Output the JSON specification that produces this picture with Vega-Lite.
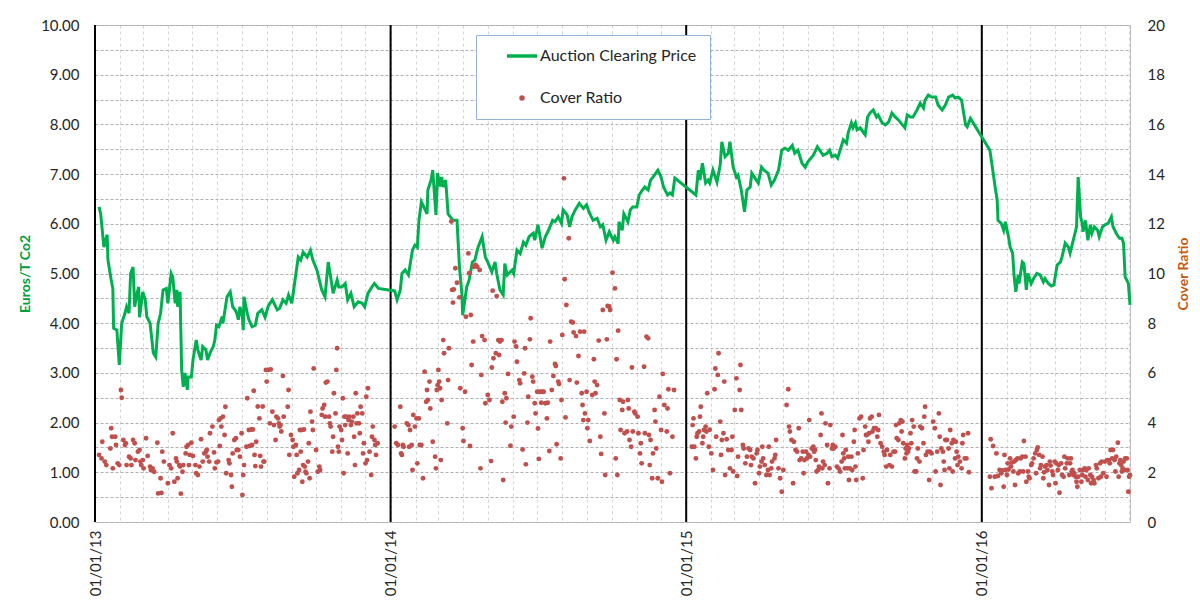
{
  "$schema": "https://vega.github.io/schema/vega-lite/v6.json",
  "width": 1035,
  "height": 497,
  "autosize": {"type": "none"},
  "padding": {"left": 95, "top": 25, "right": 70, "bottom": 80},
  "background": "white",
  "config": {"view": {"stroke": "#bfbfbf", "strokeWidth": 1}, "font": "Lato"},
  "datasets": {
    "years": [{"d": "2013-01-01"}, {"d": "2014-01-01"}, {"d": "2015-01-01"}, {"d": "2016-01-01"}],
    "price": [
      {"d":"2013-01-06","p":6.34},{"d":"2013-01-08","p":6.2},{"d":"2013-01-12","p":5.53},{"d":"2013-01-16","p":5.78},{"d":"2013-01-17","p":5.27},{"d":"2013-01-21","p":4.87},{"d":"2013-01-23","p":4.7},{"d":"2013-01-24","p":3.9},{"d":"2013-01-28","p":3.86},{"d":"2013-01-31","p":3.16},
      {"d":"2013-02-03","p":4.0},{"d":"2013-02-07","p":4.2},{"d":"2013-02-09","p":4.33},{"d":"2013-02-12","p":4.2},{"d":"2013-02-14","p":5.0},{"d":"2013-02-17","p":5.13},{"d":"2013-02-19","p":4.33},{"d":"2013-02-22","p":4.6},{"d":"2013-02-24","p":4.73},{"d":"2013-02-25","p":4.12},
      {"d":"2013-03-01","p":4.63},{"d":"2013-03-04","p":4.47},{"d":"2013-03-06","p":4.13},{"d":"2013-03-10","p":4.0},{"d":"2013-03-14","p":3.4},{"d":"2013-03-17","p":3.32},{"d":"2013-03-20","p":4.0},{"d":"2013-03-23","p":4.2},{"d":"2013-03-26","p":4.67},{"d":"2013-03-30","p":4.7},
      {"d":"2013-04-01","p":4.4},{"d":"2013-04-05","p":5.0},{"d":"2013-04-07","p":4.93},{"d":"2013-04-10","p":4.4},{"d":"2013-04-12","p":4.67},{"d":"2013-04-13","p":4.33},{"d":"2013-04-16","p":4.63},{"d":"2013-04-18","p":3.06},{"d":"2013-04-20","p":2.72},{"d":"2013-04-22","p":3.0},{"d":"2013-04-25","p":2.66},{"d":"2013-04-26","p":2.92},{"d":"2013-04-30","p":2.92},
      {"d":"2013-05-02","p":3.26},{"d":"2013-05-06","p":3.66},{"d":"2013-05-08","p":3.46},{"d":"2013-05-12","p":3.26},{"d":"2013-05-14","p":3.53},{"d":"2013-05-18","p":3.46},{"d":"2013-05-20","p":3.26},{"d":"2013-05-23","p":3.4},{"d":"2013-05-27","p":3.53},{"d":"2013-05-29","p":3.66},{"d":"2013-05-31","p":3.96},
      {"d":"2013-06-03","p":3.93},{"d":"2013-06-07","p":4.13},{"d":"2013-06-08","p":4.0},{"d":"2013-06-13","p":4.53},{"d":"2013-06-17","p":4.63},{"d":"2013-06-20","p":4.33},{"d":"2013-06-23","p":4.27},{"d":"2013-06-25","p":4.2},{"d":"2013-06-27","p":4.07},{"d":"2013-06-29","p":4.33},
      {"d":"2013-07-02","p":4.13},{"d":"2013-07-03","p":3.86},{"d":"2013-07-04","p":4.53},{"d":"2013-07-08","p":4.2},{"d":"2013-07-10","p":4.07},{"d":"2013-07-14","p":3.93},{"d":"2013-07-18","p":3.96},{"d":"2013-07-21","p":4.2},{"d":"2013-07-26","p":4.27},{"d":"2013-07-30","p":4.12},
      {"d":"2013-08-03","p":4.35},{"d":"2013-08-08","p":4.47},{"d":"2013-08-14","p":4.27},{"d":"2013-08-17","p":4.3},{"d":"2013-08-21","p":4.47},{"d":"2013-08-25","p":4.4},{"d":"2013-08-28","p":4.57},
      {"d":"2013-09-01","p":4.4},{"d":"2013-09-05","p":4.87},{"d":"2013-09-09","p":5.33},{"d":"2013-09-12","p":5.27},{"d":"2013-09-15","p":5.43},{"d":"2013-09-20","p":5.33},{"d":"2013-09-24","p":5.47},{"d":"2013-09-27","p":5.27},
      {"d":"2013-10-02","p":5.07},{"d":"2013-10-06","p":4.8},{"d":"2013-10-08","p":4.67},{"d":"2013-10-12","p":4.53},{"d":"2013-10-16","p":5.23},{"d":"2013-10-19","p":4.93},{"d":"2013-10-22","p":4.6},{"d":"2013-10-27","p":4.87},{"d":"2013-10-29","p":4.73},
      {"d":"2013-11-02","p":4.73},{"d":"2013-11-06","p":4.8},{"d":"2013-11-09","p":4.47},{"d":"2013-11-13","p":4.6},{"d":"2013-11-17","p":4.33},{"d":"2013-11-22","p":4.43},{"d":"2013-11-27","p":4.4},{"d":"2013-11-30","p":4.33},
      {"d":"2013-12-04","p":4.6},{"d":"2013-12-09","p":4.73},{"d":"2013-12-12","p":4.8},{"d":"2013-12-17","p":4.7},
      {"d":"2014-01-06","p":4.65},{"d":"2014-01-09","p":4.47},{"d":"2014-01-13","p":4.67},{"d":"2014-01-15","p":5.0},{"d":"2014-01-19","p":5.07},{"d":"2014-01-23","p":4.97},{"d":"2014-01-28","p":5.47},{"d":"2014-01-31","p":5.57},
      {"d":"2014-02-03","p":5.53},{"d":"2014-02-05","p":6.07},{"d":"2014-02-08","p":6.44},{"d":"2014-02-11","p":6.34},{"d":"2014-02-15","p":6.2},{"d":"2014-02-16","p":6.68},{"d":"2014-02-20","p":6.88},{"d":"2014-02-22","p":7.08},{"d":"2014-02-26","p":6.18},{"d":"2014-02-28","p":7.02},
      {"d":"2014-03-03","p":6.75},{"d":"2014-03-05","p":6.94},{"d":"2014-03-07","p":6.74},{"d":"2014-03-10","p":6.88},{"d":"2014-03-13","p":6.2},{"d":"2014-03-19","p":6.07},{"d":"2014-03-24","p":6.07},{"d":"2014-03-27","p":5.13},{"d":"2014-03-30","p":4.6},{"d":"2014-03-31","p":4.16},
      {"d":"2014-04-05","p":4.73},{"d":"2014-04-08","p":4.87},{"d":"2014-04-12","p":5.23},{"d":"2014-04-15","p":5.27},{"d":"2014-04-19","p":5.53},{"d":"2014-04-24","p":5.74},{"d":"2014-04-28","p":5.33},
      {"d":"2014-05-01","p":5.23},{"d":"2014-05-06","p":5.03},{"d":"2014-05-10","p":5.23},{"d":"2014-05-12","p":5.0},{"d":"2014-05-16","p":4.67},{"d":"2014-05-20","p":4.57},{"d":"2014-05-22","p":5.2},{"d":"2014-05-25","p":4.97},{"d":"2014-05-31","p":5.07},
      {"d":"2014-06-02","p":5.0},{"d":"2014-06-06","p":5.47},{"d":"2014-06-10","p":5.4},{"d":"2014-06-14","p":5.63},{"d":"2014-06-17","p":5.57},{"d":"2014-06-21","p":5.74},{"d":"2014-06-26","p":5.81},{"d":"2014-06-28","p":5.67},
      {"d":"2014-07-02","p":5.98},{"d":"2014-07-07","p":5.51},{"d":"2014-07-11","p":5.74},{"d":"2014-07-15","p":5.87},{"d":"2014-07-20","p":6.07},{"d":"2014-07-23","p":6.04},{"d":"2014-07-27","p":6.14},{"d":"2014-07-31","p":6.01},
      {"d":"2014-08-02","p":6.28},{"d":"2014-08-07","p":6.18},{"d":"2014-08-10","p":5.94},{"d":"2014-08-13","p":6.14},{"d":"2014-08-17","p":6.28},{"d":"2014-08-22","p":6.41},{"d":"2014-08-27","p":6.31},{"d":"2014-08-31","p":6.38},
      {"d":"2014-09-03","p":6.24},{"d":"2014-09-08","p":6.07},{"d":"2014-09-13","p":6.11},{"d":"2014-09-17","p":5.94},{"d":"2014-09-20","p":5.98},{"d":"2014-09-24","p":5.67},{"d":"2014-09-28","p":5.84},
      {"d":"2014-10-03","p":5.67},{"d":"2014-10-05","p":5.74},{"d":"2014-10-09","p":5.6},{"d":"2014-10-10","p":6.04},{"d":"2014-10-14","p":5.87},{"d":"2014-10-16","p":6.2},{"d":"2014-10-21","p":6.04},{"d":"2014-10-24","p":6.28},{"d":"2014-10-27","p":6.34},
      {"d":"2014-11-01","p":6.34},{"d":"2014-11-04","p":6.58},{"d":"2014-11-08","p":6.68},{"d":"2014-11-11","p":6.74},{"d":"2014-11-15","p":6.68},{"d":"2014-11-18","p":6.88},{"d":"2014-11-21","p":6.94},{"d":"2014-11-27","p":7.08},
      {"d":"2014-12-01","p":6.94},{"d":"2014-12-04","p":6.74},{"d":"2014-12-09","p":6.58},{"d":"2014-12-12","p":6.62},{"d":"2014-12-15","p":6.58},{"d":"2014-12-18","p":6.92},
      {"d":"2015-01-13","p":6.58},{"d":"2015-01-16","p":7.08},{"d":"2015-01-18","p":6.88},{"d":"2015-01-21","p":7.22},{"d":"2015-01-25","p":6.82},{"d":"2015-01-28","p":6.88},{"d":"2015-01-30","p":6.82},
      {"d":"2015-02-03","p":7.08},{"d":"2015-02-08","p":6.84},{"d":"2015-02-12","p":7.18},{"d":"2015-02-14","p":7.65},{"d":"2015-02-18","p":7.35},{"d":"2015-02-22","p":7.42},{"d":"2015-02-24","p":7.65},{"d":"2015-02-28","p":7.14},
      {"d":"2015-03-04","p":6.94},{"d":"2015-03-06","p":6.98},{"d":"2015-03-10","p":6.68},{"d":"2015-03-14","p":6.24},{"d":"2015-03-17","p":6.68},{"d":"2015-03-21","p":6.74},{"d":"2015-03-23","p":7.02},{"d":"2015-03-27","p":6.92},{"d":"2015-03-31","p":6.82},
      {"d":"2015-04-04","p":7.14},{"d":"2015-04-07","p":7.08},{"d":"2015-04-12","p":7.02},{"d":"2015-04-16","p":6.78},{"d":"2015-04-20","p":6.88},{"d":"2015-04-25","p":7.08},{"d":"2015-04-27","p":7.28},{"d":"2015-04-29","p":7.48},
      {"d":"2015-05-03","p":7.52},{"d":"2015-05-07","p":7.48},{"d":"2015-05-12","p":7.58},{"d":"2015-05-15","p":7.42},{"d":"2015-05-19","p":7.48},{"d":"2015-05-24","p":7.22},{"d":"2015-05-28","p":7.14},{"d":"2015-05-31","p":7.24},
      {"d":"2015-06-07","p":7.38},{"d":"2015-06-12","p":7.55},{"d":"2015-06-15","p":7.48},{"d":"2015-06-19","p":7.38},{"d":"2015-06-24","p":7.42},{"d":"2015-06-27","p":7.48},{"d":"2015-06-30","p":7.35},
      {"d":"2015-07-04","p":7.38},{"d":"2015-07-07","p":7.32},{"d":"2015-07-10","p":7.48},{"d":"2015-07-14","p":7.69},{"d":"2015-07-18","p":7.62},{"d":"2015-07-20","p":7.83},{"d":"2015-07-24","p":8.03},{"d":"2015-07-26","p":7.93},{"d":"2015-07-29","p":8.03},{"d":"2015-07-31","p":7.89},
      {"d":"2015-08-04","p":7.93},{"d":"2015-08-08","p":7.83},{"d":"2015-08-10","p":7.79},{"d":"2015-08-13","p":8.15},{"d":"2015-08-16","p":8.23},{"d":"2015-08-20","p":8.29},{"d":"2015-08-24","p":8.15},{"d":"2015-08-26","p":8.19},{"d":"2015-08-31","p":8.03},
      {"d":"2015-09-04","p":7.99},{"d":"2015-09-08","p":8.05},{"d":"2015-09-12","p":8.23},{"d":"2015-09-16","p":8.15},{"d":"2015-09-20","p":8.09},{"d":"2015-09-25","p":7.99},{"d":"2015-09-28","p":7.93},
      {"d":"2015-10-01","p":8.19},{"d":"2015-10-05","p":8.15},{"d":"2015-10-08","p":8.15},{"d":"2015-10-13","p":8.29},{"d":"2015-10-17","p":8.43},{"d":"2015-10-21","p":8.33},{"d":"2015-10-23","p":8.49},{"d":"2015-10-27","p":8.59},{"d":"2015-10-31","p":8.55},
      {"d":"2015-11-05","p":8.55},{"d":"2015-11-08","p":8.39},{"d":"2015-11-13","p":8.29},{"d":"2015-11-17","p":8.39},{"d":"2015-11-21","p":8.55},{"d":"2015-11-26","p":8.59},{"d":"2015-11-29","p":8.53},
      {"d":"2015-12-03","p":8.55},{"d":"2015-12-07","p":8.49},{"d":"2015-12-09","p":8.29},{"d":"2015-12-12","p":7.99},{"d":"2015-12-14","p":7.95},{"d":"2015-12-18","p":8.12},
      {"d":"2016-01-11","p":7.48},{"d":"2016-01-14","p":7.14},{"d":"2016-01-18","p":6.68},{"d":"2016-01-20","p":6.48},{"d":"2016-01-21","p":6.07},{"d":"2016-01-25","p":6.01},{"d":"2016-01-28","p":5.87},{"d":"2016-01-30","p":6.04},
      {"d":"2016-02-03","p":5.74},{"d":"2016-02-05","p":5.53},{"d":"2016-02-08","p":5.41},{"d":"2016-02-10","p":4.93},{"d":"2016-02-12","p":4.63},{"d":"2016-02-15","p":4.97},{"d":"2016-02-16","p":4.8},{"d":"2016-02-20","p":5.23},{"d":"2016-02-22","p":5.2},{"d":"2016-02-25","p":4.67},{"d":"2016-02-27","p":5.0},
      {"d":"2016-03-02","p":4.8},{"d":"2016-03-05","p":4.9},{"d":"2016-03-09","p":5.0},{"d":"2016-03-13","p":4.97},{"d":"2016-03-17","p":4.83},{"d":"2016-03-19","p":4.9},{"d":"2016-03-23","p":4.8},{"d":"2016-03-27","p":4.75},{"d":"2016-03-30","p":4.77},
      {"d":"2016-04-03","p":5.17},{"d":"2016-04-07","p":5.23},{"d":"2016-04-09","p":5.33},{"d":"2016-04-13","p":5.61},{"d":"2016-04-17","p":5.53},{"d":"2016-04-19","p":5.41},{"d":"2016-04-23","p":5.67},{"d":"2016-04-27","p":5.94},{"d":"2016-04-29","p":6.94},
      {"d":"2016-05-02","p":6.14},{"d":"2016-05-04","p":6.01},{"d":"2016-05-05","p":5.84},{"d":"2016-05-08","p":6.07},{"d":"2016-05-11","p":5.67},{"d":"2016-05-14","p":5.98},{"d":"2016-05-16","p":5.81},{"d":"2016-05-19","p":5.94},{"d":"2016-05-23","p":5.87},{"d":"2016-05-25","p":5.74},{"d":"2016-05-29","p":5.94},
      {"d":"2016-06-01","p":5.98},{"d":"2016-06-05","p":6.01},{"d":"2016-06-09","p":6.14},{"d":"2016-06-11","p":5.94},{"d":"2016-06-16","p":5.78},{"d":"2016-06-19","p":5.71},{"d":"2016-06-22","p":5.71},{"d":"2016-06-24","p":5.61},{"d":"2016-06-26","p":4.93},{"d":"2016-06-30","p":4.8},{"d":"2016-07-02","p":4.37}
    ],
    "cover": [
      {"d":"2013-01-06","c":2.7},{"d":"2013-01-09","c":2.56},{"d":"2013-01-10","c":3.23},{"d":"2013-01-13","c":2.43},{"d":"2013-01-15","c":2.29},{"d":"2013-01-20","c":2.96},{"d":"2013-01-21","c":3.77},{"d":"2013-01-23","c":2.16},{"d":"2013-01-22","c":3.43},{"d":"2013-01-26","c":3.43},{"d":"2013-01-27","c":3.1},{"d":"2013-01-29","c":2.36},{"d":"2013-01-31","c":2.29},
      {"d":"2013-02-02","c":5.31},{"d":"2013-02-03","c":5.0},{"d":"2013-02-05","c":3.3},{"d":"2013-02-07","c":3.1},{"d":"2013-02-08","c":3.17},{"d":"2013-02-09","c":2.29},{"d":"2013-02-12","c":2.63},{"d":"2013-02-14","c":2.56},{"d":"2013-02-15","c":2.29},{"d":"2013-02-17","c":3.3},{"d":"2013-02-19","c":3.17},{"d":"2013-02-20","c":2.49},{"d":"2013-02-23","c":2.83},{"d":"2013-02-25","c":2.9},{"d":"2013-02-26","c":2.43},{"d":"2013-02-27","c":2.29},
      {"d":"2013-03-01","c":2.49},{"d":"2013-03-02","c":2.16},{"d":"2013-03-05","c":3.37},{"d":"2013-03-07","c":2.66},{"d":"2013-03-10","c":2.23},{"d":"2013-03-11","c":2.09},{"d":"2013-03-13","c":2.16},{"d":"2013-03-15","c":2.02},{"d":"2013-03-19","c":3.19},{"d":"2013-03-20","c":1.15},{"d":"2013-03-23","c":1.76},{"d":"2013-03-24","c":1.17},{"d":"2013-03-25","c":2.83},{"d":"2013-03-27","c":2.43},
      {"d":"2013-04-01","c":1.56},{"d":"2013-04-03","c":2.29},{"d":"2013-04-05","c":2.16},{"d":"2013-04-07","c":3.57},{"d":"2013-04-09","c":1.62},{"d":"2013-04-11","c":2.56},{"d":"2013-04-12","c":2.43},{"d":"2013-04-13","c":1.76},{"d":"2013-04-15","c":2.29},{"d":"2013-04-16","c":2.23},{"d":"2013-04-17","c":1.14},{"d":"2013-04-19","c":2.02},{"d":"2013-04-20","c":2.29},{"d":"2013-04-23","c":2.76},{"d":"2013-04-24","c":3.03},{"d":"2013-04-26","c":3.1},{"d":"2013-04-27","c":2.29},{"d":"2013-04-28","c":2.7},{"d":"2013-04-30","c":3.19},
      {"d":"2013-05-02","c":2.66},{"d":"2013-05-05","c":2.29},{"d":"2013-05-06","c":1.96},{"d":"2013-05-08","c":1.89},{"d":"2013-05-10","c":2.23},{"d":"2013-05-12","c":3.33},{"d":"2013-05-14","c":2.43},{"d":"2013-05-16","c":2.76},{"d":"2013-05-18","c":2.83},{"d":"2013-05-19","c":2.9},{"d":"2013-05-20","c":2.63},{"d":"2013-05-22","c":2.43},{"d":"2013-05-23","c":3.57},{"d":"2013-05-26","c":3.84},{"d":"2013-05-28","c":2.8},{"d":"2013-05-29","c":2.16},{"d":"2013-05-31","c":2.4},
      {"d":"2013-06-02","c":2.43},{"d":"2013-06-03","c":4.1},{"d":"2013-06-04","c":3.06},{"d":"2013-06-05","c":4.17},{"d":"2013-06-06","c":3.84},{"d":"2013-06-08","c":4.24},{"d":"2013-06-10","c":3.5},{"d":"2013-06-11","c":4.64},{"d":"2013-06-12","c":1.96},{"d":"2013-06-15","c":2.49},{"d":"2013-06-16","c":2.36},{"d":"2013-06-18","c":1.89},{"d":"2013-06-19","c":1.42},{"d":"2013-06-20","c":2.76},{"d":"2013-06-22","c":3.3},{"d":"2013-06-24","c":3.37},{"d":"2013-06-25","c":2.9},{"d":"2013-06-27","c":2.9},{"d":"2013-06-29","c":2.63},
      {"d":"2013-07-01","c":3.57},{"d":"2013-07-02","c":1.09},{"d":"2013-07-03","c":1.89},{"d":"2013-07-04","c":2.29},{"d":"2013-07-07","c":3.03},{"d":"2013-07-08","c":4.98},{"d":"2013-07-10","c":3.7},{"d":"2013-07-11","c":3.06},{"d":"2013-07-13","c":3.72},{"d":"2013-07-14","c":3.1},{"d":"2013-07-15","c":3.72},{"d":"2013-07-16","c":5.28},{"d":"2013-07-17","c":2.7},{"d":"2013-07-18","c":2.25},{"d":"2013-07-19","c":3.23},{"d":"2013-07-21","c":4.65},{"d":"2013-07-23","c":4.17},{"d":"2013-07-24","c":2.66},{"d":"2013-07-25","c":2.23},{"d":"2013-07-27","c":4.65},{"d":"2013-07-28","c":2.43},{"d":"2013-07-29","c":2.43},{"d":"2013-07-31","c":6.12},
      {"d":"2013-08-01","c":5.65},{"d":"2013-08-03","c":6.12},{"d":"2013-08-05","c":3.97},{"d":"2013-08-06","c":6.14},{"d":"2013-08-08","c":4.44},{"d":"2013-08-10","c":3.9},{"d":"2013-08-12","c":3.3},{"d":"2013-08-13","c":4.24},{"d":"2013-08-15","c":4.17},{"d":"2013-08-16","c":3.97},{"d":"2013-08-17","c":3.84},{"d":"2013-08-18","c":3.9},{"d":"2013-08-19","c":3.64},{"d":"2013-08-21","c":5.88},{"d":"2013-08-22","c":4.24},{"d":"2013-08-27","c":4.64},{"d":"2013-08-28","c":5.31},{"d":"2013-08-29","c":2.7},{"d":"2013-08-31","c":3.5},
      {"d":"2013-09-02","c":3.3},{"d":"2013-09-03","c":3.03},{"d":"2013-09-04","c":1.82},{"d":"2013-09-06","c":3.1},{"d":"2013-09-07","c":2.7},{"d":"2013-09-08","c":1.96},{"d":"2013-09-10","c":2.09},{"d":"2013-09-11","c":3.7},{"d":"2013-09-12","c":2.83},{"d":"2013-09-13","c":3.7},{"d":"2013-09-14","c":1.62},{"d":"2013-09-15","c":2.29},{"d":"2013-09-16","c":3.72},{"d":"2013-09-17","c":2.23},{"d":"2013-09-18","c":2.02},{"d":"2013-09-19","c":1.96},{"d":"2013-09-21","c":2.43},{"d":"2013-09-22","c":3.17},{"d":"2013-09-23","c":1.76},{"d":"2013-09-24","c":4.44},{"d":"2013-09-26","c":4.04},{"d":"2013-09-27","c":3.7},{"d":"2013-09-28","c":6.18},
      {"d":"2013-10-01","c":2.9},{"d":"2013-10-03","c":2.02},{"d":"2013-10-05","c":2.23},{"d":"2013-10-06","c":2.09},{"d":"2013-10-08","c":4.31},{"d":"2013-10-09","c":4.57},{"d":"2013-10-11","c":4.71},{"d":"2013-10-12","c":4.24},{"d":"2013-10-13","c":5.61},{"d":"2013-10-15","c":5.65},{"d":"2013-10-17","c":4.24},{"d":"2013-10-18","c":3.97},{"d":"2013-10-19","c":3.84},{"d":"2013-10-21","c":2.83},{"d":"2013-10-22","c":3.43},{"d":"2013-10-23","c":5.18},{"d":"2013-10-25","c":4.37},{"d":"2013-10-26","c":6.12},{"d":"2013-10-27","c":6.99},{"d":"2013-10-28","c":3.03},{"d":"2013-10-29","c":2.83},{"d":"2013-10-30","c":3.84},
      {"d":"2013-11-01","c":3.7},{"d":"2013-11-02","c":3.3},{"d":"2013-11-03","c":4.98},{"d":"2013-11-04","c":1.96},{"d":"2013-11-05","c":4.24},{"d":"2013-11-06","c":3.9},{"d":"2013-11-07","c":4.24},{"d":"2013-11-09","c":2.76},{"d":"2013-11-10","c":4.1},{"d":"2013-11-11","c":4.24},{"d":"2013-11-13","c":3.9},{"d":"2013-11-14","c":4.04},{"d":"2013-11-16","c":4.24},{"d":"2013-11-17","c":3.43},{"d":"2013-11-18","c":2.29},{"d":"2013-11-19","c":5.18},{"d":"2013-11-20","c":3.97},{"d":"2013-11-21","c":4.37},{"d":"2013-11-23","c":3.97},{"d":"2013-11-24","c":3.57},{"d":"2013-11-25","c":4.64},{"d":"2013-11-27","c":4.37},{"d":"2013-11-28","c":2.76},{"d":"2013-11-29","c":3.17},
      {"d":"2013-12-01","c":2.36},{"d":"2013-12-02","c":5.04},{"d":"2013-12-03","c":2.49},{"d":"2013-12-04","c":5.38},{"d":"2013-12-06","c":2.83},{"d":"2013-12-08","c":1.89},{"d":"2013-12-09","c":3.43},{"d":"2013-12-10","c":3.84},{"d":"2013-12-12","c":3.3},{"d":"2013-12-13","c":3.1},{"d":"2013-12-14","c":2.7},{"d":"2013-12-16","c":3.17},
      {"d":"2014-01-06","c":3.84},{"d":"2014-01-08","c":3.17},{"d":"2014-01-10","c":3.1},{"d":"2014-01-13","c":4.64},{"d":"2014-01-14","c":2.76},{"d":"2014-01-15","c":2.7},{"d":"2014-01-16","c":3.1},{"d":"2014-01-17","c":3.03},{"d":"2014-01-21","c":3.97},{"d":"2014-01-23","c":3.9},{"d":"2014-01-24","c":3.03},{"d":"2014-01-25","c":3.7},{"d":"2014-01-27","c":3.1},{"d":"2014-01-28","c":2.09},{"d":"2014-01-29","c":4.31},{"d":"2014-01-31","c":3.84},
      {"d":"2014-02-02","c":4.17},{"d":"2014-02-03","c":2.36},{"d":"2014-02-05","c":4.17},{"d":"2014-02-06","c":3.1},{"d":"2014-02-08","c":3.1},{"d":"2014-02-10","c":1.76},{"d":"2014-02-12","c":6.05},{"d":"2014-02-14","c":4.84},{"d":"2014-02-15","c":5.31},{"d":"2014-02-16","c":4.91},{"d":"2014-02-18","c":5.65},{"d":"2014-02-19","c":4.57},{"d":"2014-02-22","c":3.23},{"d":"2014-02-25","c":2.63},{"d":"2014-02-26","c":2.16},{"d":"2014-02-27","c":5.31},{"d":"2014-02-28","c":5.51},
      {"d":"2014-03-01","c":6.12},{"d":"2014-03-02","c":5.65},{"d":"2014-03-03","c":5.38},{"d":"2014-03-04","c":2.49},{"d":"2014-03-05","c":4.91},{"d":"2014-03-07","c":7.32},{"d":"2014-03-08","c":6.79},{"d":"2014-03-12","c":3.97},{"d":"2014-03-13","c":5.71},{"d":"2014-03-14","c":6.99},{"d":"2014-03-17","c":12.09},{"d":"2014-03-18","c":9.34},{"d":"2014-03-19","c":8.83},{"d":"2014-03-20","c":9.36},{"d":"2014-03-22","c":10.21},{"d":"2014-03-24","c":9.63},{"d":"2014-03-27","c":9.04},{"d":"2014-03-28","c":5.38},{"d":"2014-03-31","c":3.77},
      {"d":"2014-04-01","c":3.26},{"d":"2014-04-03","c":5.24},{"d":"2014-04-04","c":8.26},{"d":"2014-04-07","c":10.81},{"d":"2014-04-08","c":10.01},{"d":"2014-04-09","c":3.06},{"d":"2014-04-10","c":8.33},{"d":"2014-04-11","c":6.32},{"d":"2014-04-13","c":7.26},{"d":"2014-04-14","c":10.27},{"d":"2014-04-16","c":10.34},{"d":"2014-04-18","c":10.27},{"d":"2014-04-21","c":10.14},{"d":"2014-04-22","c":2.16},{"d":"2014-04-23","c":5.92},{"d":"2014-04-24","c":7.48},{"d":"2014-04-27","c":7.32},{"d":"2014-04-28","c":4.78},
      {"d":"2014-05-01","c":5.11},{"d":"2014-05-03","c":4.91},{"d":"2014-05-05","c":2.45},{"d":"2014-05-06","c":6.22},{"d":"2014-05-07","c":9.31},{"d":"2014-05-08","c":6.59},{"d":"2014-05-11","c":6.79},{"d":"2014-05-12","c":9.09},{"d":"2014-05-14","c":7.32},{"d":"2014-05-15","c":6.72},{"d":"2014-05-16","c":7.26},{"d":"2014-05-18","c":7.32},{"d":"2014-05-19","c":4.84},{"d":"2014-05-20","c":1.69},{"d":"2014-05-22","c":5.18},{"d":"2014-05-23","c":4.0},{"d":"2014-05-24","c":4.98},{"d":"2014-05-26","c":5.96},{"d":"2014-05-29","c":3.07},{"d":"2014-05-30","c":3.84},
      {"d":"2014-06-02","c":4.24},{"d":"2014-06-03","c":7.26},{"d":"2014-06-05","c":7.06},{"d":"2014-06-06","c":6.45},{"d":"2014-06-09","c":5.71},{"d":"2014-06-10","c":5.58},{"d":"2014-06-13","c":2.92},{"d":"2014-06-15","c":5.98},{"d":"2014-06-16","c":6.99},{"d":"2014-06-17","c":2.32},{"d":"2014-06-19","c":4.0},{"d":"2014-06-20","c":5.04},{"d":"2014-06-22","c":7.35},{"d":"2014-06-23","c":8.2},{"d":"2014-06-25","c":5.85},{"d":"2014-06-26","c":5.65},{"d":"2014-06-28","c":4.78},{"d":"2014-06-29","c":4.37},
      {"d":"2014-07-01","c":5.24},{"d":"2014-07-02","c":3.76},{"d":"2014-07-03","c":2.54},{"d":"2014-07-04","c":5.24},{"d":"2014-07-06","c":4.8},{"d":"2014-07-07","c":5.24},{"d":"2014-07-09","c":5.24},{"d":"2014-07-11","c":4.78},{"d":"2014-07-13","c":4.17},{"d":"2014-07-14","c":4.8},{"d":"2014-07-16","c":2.86},{"d":"2014-07-17","c":7.26},{"d":"2014-07-19","c":5.31},{"d":"2014-07-21","c":5.88},{"d":"2014-07-23","c":6.36},{"d":"2014-07-24","c":6.28},{"d":"2014-07-25","c":3.13},{"d":"2014-07-27","c":5.65},{"d":"2014-07-28","c":5.55},{"d":"2014-07-30","c":2.56},{"d":"2014-07-31","c":4.91},
      {"d":"2014-08-01","c":7.53},{"d":"2014-08-03","c":13.83},{"d":"2014-08-04","c":9.77},{"d":"2014-08-05","c":4.21},{"d":"2014-08-06","c":8.73},{"d":"2014-08-09","c":11.42},{"d":"2014-08-10","c":5.71},{"d":"2014-08-12","c":8.06},{"d":"2014-08-14","c":8.03},{"d":"2014-08-15","c":7.63},{"d":"2014-08-18","c":7.48},{"d":"2014-08-19","c":5.61},{"d":"2014-08-21","c":6.68},{"d":"2014-08-23","c":7.66},{"d":"2014-08-25","c":5.18},{"d":"2014-08-26","c":4.71},{"d":"2014-08-27","c":4.1},{"d":"2014-08-28","c":7.66},{"d":"2014-08-29","c":4.37},{"d":"2014-08-31","c":5.24},
      {"d":"2014-09-01","c":3.77},{"d":"2014-09-02","c":4.1},{"d":"2014-09-04","c":3.26},{"d":"2014-09-07","c":5.11},{"d":"2014-09-09","c":6.55},{"d":"2014-09-10","c":5.65},{"d":"2014-09-11","c":5.18},{"d":"2014-09-13","c":5.51},{"d":"2014-09-15","c":7.3},{"d":"2014-09-17","c":3.43},{"d":"2014-09-18","c":2.74},{"d":"2014-09-20","c":8.53},{"d":"2014-09-22","c":4.37},{"d":"2014-09-23","c":1.89},{"d":"2014-09-25","c":7.35},{"d":"2014-09-26","c":8.69},{"d":"2014-09-28","c":8.67},{"d":"2014-09-29","c":8.53},
      {"d":"2014-10-02","c":10.03},{"d":"2014-10-05","c":9.4},{"d":"2014-10-06","c":2.56},{"d":"2014-10-07","c":6.55},{"d":"2014-10-08","c":1.89},{"d":"2014-10-09","c":7.7},{"d":"2014-10-11","c":4.91},{"d":"2014-10-12","c":3.7},{"d":"2014-10-14","c":4.51},{"d":"2014-10-15","c":4.84},{"d":"2014-10-17","c":3.57},{"d":"2014-10-20","c":3.64},{"d":"2014-10-21","c":4.91},{"d":"2014-10-22","c":4.57},{"d":"2014-10-23","c":3.3},{"d":"2014-10-25","c":3.03},{"d":"2014-10-26","c":6.22},{"d":"2014-10-27","c":3.64},{"d":"2014-10-29","c":4.44},{"d":"2014-10-30","c":4.37},
      {"d":"2014-11-02","c":4.24},{"d":"2014-11-03","c":3.57},{"d":"2014-11-05","c":2.76},{"d":"2014-11-06","c":3.17},{"d":"2014-11-07","c":2.36},{"d":"2014-11-10","c":6.25},{"d":"2014-11-11","c":3.57},{"d":"2014-11-13","c":7.46},{"d":"2014-11-15","c":7.39},{"d":"2014-11-16","c":3.5},{"d":"2014-11-17","c":2.29},{"d":"2014-11-18","c":3.3},{"d":"2014-11-20","c":1.76},{"d":"2014-11-21","c":2.76},{"d":"2014-11-23","c":4.51},{"d":"2014-11-24","c":4.04},{"d":"2014-11-25","c":2.96},{"d":"2014-11-27","c":1.76},{"d":"2014-11-29","c":5.04},
      {"d":"2014-12-01","c":3.7},{"d":"2014-12-02","c":1.62},{"d":"2014-12-03","c":5.96},{"d":"2014-12-05","c":4.71},{"d":"2014-12-08","c":3.64},{"d":"2014-12-09","c":4.57},{"d":"2014-12-10","c":5.34},{"d":"2014-12-12","c":1.96},{"d":"2014-12-15","c":3.43},{"d":"2014-12-17","c":5.31},
      {"d":"2015-01-08","c":3.03},{"d":"2015-01-09","c":3.9},{"d":"2015-01-10","c":4.17},{"d":"2015-01-11","c":3.03},{"d":"2015-01-13","c":2.56},{"d":"2015-01-14","c":3.43},{"d":"2015-01-15","c":3.57},{"d":"2015-01-17","c":3.64},{"d":"2015-01-18","c":4.24},{"d":"2015-01-19","c":4.64},{"d":"2015-01-21","c":3.17},{"d":"2015-01-22","c":3.43},{"d":"2015-01-23","c":3.7},{"d":"2015-01-25","c":3.84},{"d":"2015-01-26","c":3.64},{"d":"2015-01-27","c":5.18},{"d":"2015-01-29","c":3.03},{"d":"2015-01-30","c":3.71},
      {"d":"2015-02-01","c":2.76},{"d":"2015-02-03","c":2.09},{"d":"2015-02-05","c":5.34},{"d":"2015-02-06","c":6.18},{"d":"2015-02-07","c":3.43},{"d":"2015-02-09","c":5.92},{"d":"2015-02-10","c":6.79},{"d":"2015-02-12","c":4.04},{"d":"2015-02-13","c":2.7},{"d":"2015-02-14","c":3.3},{"d":"2015-02-16","c":3.57},{"d":"2015-02-17","c":5.65},{"d":"2015-02-18","c":1.89},{"d":"2015-02-20","c":3.33},{"d":"2015-02-22","c":2.9},{"d":"2015-02-24","c":2.16},{"d":"2015-02-26","c":2.9},{"d":"2015-02-27","c":3.43},{"d":"2015-02-28","c":2.03},
      {"d":"2015-03-02","c":4.51},{"d":"2015-03-04","c":5.78},{"d":"2015-03-05","c":1.85},{"d":"2015-03-06","c":2.63},{"d":"2015-03-08","c":5.31},{"d":"2015-03-09","c":6.32},{"d":"2015-03-10","c":4.51},{"d":"2015-03-12","c":3.1},{"d":"2015-03-13","c":2.96},{"d":"2015-03-15","c":2.36},{"d":"2015-03-17","c":2.63},{"d":"2015-03-19","c":2.96},{"d":"2015-03-21","c":2.9},{"d":"2015-03-22","c":2.29},{"d":"2015-03-23","c":2.63},{"d":"2015-03-25","c":2.56},{"d":"2015-03-27","c":1.56},{"d":"2015-03-29","c":2.76},{"d":"2015-03-30","c":2.9},
      {"d":"2015-04-01","c":1.96},{"d":"2015-04-02","c":2.23},{"d":"2015-04-04","c":2.43},{"d":"2015-04-05","c":3.03},{"d":"2015-04-06","c":2.56},{"d":"2015-04-08","c":2.29},{"d":"2015-04-10","c":1.89},{"d":"2015-04-12","c":2.09},{"d":"2015-04-13","c":3.03},{"d":"2015-04-14","c":1.89},{"d":"2015-04-16","c":2.16},{"d":"2015-04-17","c":2.43},{"d":"2015-04-20","c":2.56},{"d":"2015-04-21","c":2.7},{"d":"2015-04-22","c":3.3},{"d":"2015-04-25","c":2.16},{"d":"2015-04-27","c":1.76},{"d":"2015-04-29","c":1.22},
      {"d":"2015-05-01","c":2.09},{"d":"2015-05-05","c":4.71},{"d":"2015-05-07","c":5.34},{"d":"2015-05-08","c":3.84},{"d":"2015-05-09","c":3.64},{"d":"2015-05-11","c":3.3},{"d":"2015-05-13","c":1.56},{"d":"2015-05-14","c":3.23},{"d":"2015-05-16","c":2.9},{"d":"2015-05-18","c":2.83},{"d":"2015-05-20","c":3.77},{"d":"2015-05-21","c":2.49},{"d":"2015-05-23","c":2.56},{"d":"2015-05-25","c":2.83},{"d":"2015-05-26","c":1.96},{"d":"2015-05-27","c":2.49},{"d":"2015-05-29","c":2.83},{"d":"2015-05-30","c":2.56},
      {"d":"2015-06-01","c":2.7},{"d":"2015-06-02","c":4.1},{"d":"2015-06-03","c":2.63},{"d":"2015-06-05","c":2.96},{"d":"2015-06-07","c":3.03},{"d":"2015-06-08","c":2.83},{"d":"2015-06-09","c":2.9},{"d":"2015-06-10","c":2.49},{"d":"2015-06-11","c":2.03},{"d":"2015-06-13","c":2.09},{"d":"2015-06-14","c":2.23},{"d":"2015-06-16","c":3.5},{"d":"2015-06-17","c":4.37},{"d":"2015-06-18","c":2.16},{"d":"2015-06-19","c":2.43},{"d":"2015-06-21","c":2.29},{"d":"2015-06-22","c":3.97},{"d":"2015-06-24","c":3.1},{"d":"2015-06-25","c":1.56},{"d":"2015-06-27","c":2.16},{"d":"2015-06-28","c":3.9},{"d":"2015-06-30","c":2.96},
      {"d":"2015-07-01","c":3.1},{"d":"2015-07-02","c":2.96},{"d":"2015-07-04","c":3.03},{"d":"2015-07-06","c":2.23},{"d":"2015-07-08","c":2.16},{"d":"2015-07-10","c":2.03},{"d":"2015-07-12","c":2.43},{"d":"2015-07-13","c":3.5},{"d":"2015-07-14","c":2.76},{"d":"2015-07-15","c":2.56},{"d":"2015-07-16","c":2.16},{"d":"2015-07-17","c":2.9},{"d":"2015-07-19","c":2.16},{"d":"2015-07-20","c":2.63},{"d":"2015-07-21","c":1.69},{"d":"2015-07-22","c":2.16},{"d":"2015-07-24","c":2.63},{"d":"2015-07-25","c":2.09},{"d":"2015-07-27","c":3.23},{"d":"2015-07-28","c":3.7},{"d":"2015-07-29","c":2.23},{"d":"2015-07-30","c":1.69},
      {"d":"2015-08-01","c":2.76},{"d":"2015-08-03","c":4.17},{"d":"2015-08-05","c":4.24},{"d":"2015-08-07","c":1.76},{"d":"2015-08-08","c":2.9},{"d":"2015-08-10","c":3.84},{"d":"2015-08-11","c":3.5},{"d":"2015-08-12","c":3.5},{"d":"2015-08-14","c":3.23},{"d":"2015-08-15","c":3.57},{"d":"2015-08-16","c":4.17},{"d":"2015-08-18","c":4.24},{"d":"2015-08-19","c":3.64},{"d":"2015-08-21","c":3.77},{"d":"2015-08-23","c":3.77},{"d":"2015-08-25","c":3.43},{"d":"2015-08-26","c":3.7},{"d":"2015-08-27","c":4.31},{"d":"2015-08-29","c":3.17},{"d":"2015-08-31","c":3.03},
      {"d":"2015-09-02","c":2.83},{"d":"2015-09-03","c":2.7},{"d":"2015-09-05","c":2.23},{"d":"2015-09-06","c":2.9},{"d":"2015-09-09","c":2.29},{"d":"2015-09-10","c":2.7},{"d":"2015-09-12","c":2.23},{"d":"2015-09-14","c":2.83},{"d":"2015-09-16","c":2.83},{"d":"2015-09-17","c":3.9},{"d":"2015-09-18","c":3.37},{"d":"2015-09-20","c":3.3},{"d":"2015-09-21","c":3.97},{"d":"2015-09-23","c":4.1},{"d":"2015-09-24","c":3.64},{"d":"2015-09-25","c":4.04},{"d":"2015-09-26","c":3.17},{"d":"2015-09-28","c":2.56},{"d":"2015-09-29","c":2.96},{"d":"2015-09-30","c":2.76},
      {"d":"2015-10-01","c":3.1},{"d":"2015-10-02","c":2.83},{"d":"2015-10-03","c":2.96},{"d":"2015-10-05","c":3.57},{"d":"2015-10-06","c":3.17},{"d":"2015-10-07","c":4.1},{"d":"2015-10-09","c":3.84},{"d":"2015-10-10","c":2.03},{"d":"2015-10-12","c":2.03},{"d":"2015-10-13","c":2.56},{"d":"2015-10-14","c":2.96},{"d":"2015-10-16","c":2.43},{"d":"2015-10-17","c":3.84},{"d":"2015-10-19","c":3.77},{"d":"2015-10-21","c":3.17},{"d":"2015-10-22","c":4.24},{"d":"2015-10-23","c":4.64},{"d":"2015-10-24","c":2.7},{"d":"2015-10-26","c":2.83},{"d":"2015-10-28","c":1.69},{"d":"2015-10-29","c":2.83},{"d":"2015-10-31","c":2.76},
      {"d":"2015-11-02","c":4.04},{"d":"2015-11-04","c":3.77},{"d":"2015-11-05","c":2.03},{"d":"2015-11-07","c":2.83},{"d":"2015-11-09","c":4.37},{"d":"2015-11-10","c":3.43},{"d":"2015-11-11","c":1.49},{"d":"2015-11-12","c":2.96},{"d":"2015-11-14","c":2.83},{"d":"2015-11-15","c":2.43},{"d":"2015-11-16","c":2.09},{"d":"2015-11-17","c":3.3},{"d":"2015-11-19","c":3.3},{"d":"2015-11-21","c":2.96},{"d":"2015-11-22","c":2.16},{"d":"2015-11-23","c":3.7},{"d":"2015-11-25","c":3.17},{"d":"2015-11-26","c":2.03},{"d":"2015-11-27","c":3.3},{"d":"2015-11-29","c":2.56},{"d":"2015-11-30","c":3.23},
      {"d":"2015-12-01","c":2.83},{"d":"2015-12-02","c":2.29},{"d":"2015-12-03","c":2.63},{"d":"2015-12-05","c":2.43},{"d":"2015-12-07","c":2.16},{"d":"2015-12-08","c":3.17},{"d":"2015-12-09","c":3.5},{"d":"2015-12-11","c":2.56},{"d":"2015-12-13","c":2.56},{"d":"2015-12-15","c":3.57},{"d":"2015-12-16","c":2.0},
      {"d":"2016-01-11","c":1.82},{"d":"2016-01-12","c":3.33},{"d":"2016-01-13","c":1.36},{"d":"2016-01-15","c":3.06},{"d":"2016-01-17","c":1.82},{"d":"2016-01-19","c":2.76},{"d":"2016-01-21","c":1.85},{"d":"2016-01-23","c":2.09},{"d":"2016-01-25","c":1.96},{"d":"2016-01-26","c":2.07},{"d":"2016-01-28","c":1.42},{"d":"2016-01-29","c":2.7},{"d":"2016-01-30","c":2.09},
      {"d":"2016-02-01","c":1.89},{"d":"2016-02-02","c":2.36},{"d":"2016-02-03","c":2.11},{"d":"2016-02-05","c":2.56},{"d":"2016-02-06","c":2.23},{"d":"2016-02-07","c":2.39},{"d":"2016-02-09","c":2.03},{"d":"2016-02-10","c":2.43},{"d":"2016-02-11","c":1.49},{"d":"2016-02-12","c":2.49},{"d":"2016-02-14","c":2.56},{"d":"2016-02-15","c":1.96},{"d":"2016-02-17","c":2.03},{"d":"2016-02-18","c":2.56},{"d":"2016-02-20","c":2.63},{"d":"2016-02-21","c":2.03},{"d":"2016-02-22","c":3.26},{"d":"2016-02-24","c":2.63},{"d":"2016-02-25","c":1.62},{"d":"2016-02-27","c":2.03},{"d":"2016-02-28","c":1.82},{"d":"2016-02-29","c":1.76},
      {"d":"2016-03-02","c":2.29},{"d":"2016-03-03","c":2.36},{"d":"2016-03-05","c":2.56},{"d":"2016-03-07","c":2.76},{"d":"2016-03-08","c":1.96},{"d":"2016-03-09","c":2.9},{"d":"2016-03-10","c":3.0},{"d":"2016-03-12","c":2.7},{"d":"2016-03-13","c":2.16},{"d":"2016-03-14","c":2.29},{"d":"2016-03-16","c":2.63},{"d":"2016-03-17","c":1.76},{"d":"2016-03-18","c":2.0},{"d":"2016-03-19","c":2.23},{"d":"2016-03-21","c":2.29},{"d":"2016-03-22","c":2.09},{"d":"2016-03-24","c":1.49},{"d":"2016-03-25","c":2.43},{"d":"2016-03-26","c":2.27},{"d":"2016-03-28","c":2.03},{"d":"2016-03-29","c":1.89},{"d":"2016-03-31","c":2.43},
      {"d":"2016-04-01","c":1.56},{"d":"2016-04-02","c":2.36},{"d":"2016-04-04","c":2.09},{"d":"2016-04-05","c":2.29},{"d":"2016-04-06","c":1.18},{"d":"2016-04-08","c":2.36},{"d":"2016-04-09","c":1.89},{"d":"2016-04-11","c":1.82},{"d":"2016-04-12","c":2.63},{"d":"2016-04-13","c":2.16},{"d":"2016-04-15","c":2.36},{"d":"2016-04-16","c":2.56},{"d":"2016-04-18","c":1.89},{"d":"2016-04-19","c":2.36},{"d":"2016-04-20","c":2.56},{"d":"2016-04-21","c":2.03},{"d":"2016-04-22","c":2.09},{"d":"2016-04-23","c":1.89},{"d":"2016-04-24","c":1.96},{"d":"2016-04-26","c":1.82},{"d":"2016-04-27","c":1.62},{"d":"2016-04-28","c":1.42},{"d":"2016-04-29","c":1.82},
      {"d":"2016-05-01","c":2.09},{"d":"2016-05-03","c":1.62},{"d":"2016-05-04","c":1.89},{"d":"2016-05-05","c":2.09},{"d":"2016-05-07","c":2.16},{"d":"2016-05-08","c":1.82},{"d":"2016-05-09","c":2.09},{"d":"2016-05-11","c":1.69},{"d":"2016-05-12","c":2.16},{"d":"2016-05-14","c":1.89},{"d":"2016-05-15","c":1.56},{"d":"2016-05-16","c":1.82},{"d":"2016-05-18","c":1.69},{"d":"2016-05-19","c":1.56},{"d":"2016-05-21","c":2.29},{"d":"2016-05-22","c":2.16},{"d":"2016-05-24","c":1.76},{"d":"2016-05-26","c":2.36},{"d":"2016-05-27","c":1.82},{"d":"2016-05-28","c":2.43},{"d":"2016-05-30","c":1.96},
      {"d":"2016-06-01","c":2.43},{"d":"2016-06-03","c":1.82},{"d":"2016-06-04","c":2.49},{"d":"2016-06-06","c":2.49},{"d":"2016-06-07","c":2.36},{"d":"2016-06-08","c":2.9},{"d":"2016-06-10","c":2.56},{"d":"2016-06-11","c":2.9},{"d":"2016-06-13","c":2.49},{"d":"2016-06-14","c":2.03},{"d":"2016-06-15","c":2.63},{"d":"2016-06-17","c":3.19},{"d":"2016-06-18","c":1.82},{"d":"2016-06-19","c":2.36},{"d":"2016-06-20","c":2.49},{"d":"2016-06-21","c":2.29},{"d":"2016-06-22","c":2.03},{"d":"2016-06-23","c":2.16},{"d":"2016-06-24","c":2.43},{"d":"2016-06-25","c":2.09},{"d":"2016-06-26","c":2.56},{"d":"2016-06-28","c":2.56},{"d":"2016-06-29","c":2.09},{"d":"2016-06-30","c":1.22},{"d":"2016-07-01","c":1.82},{"d":"2016-07-02","c":1.89}
    ]
  },
  "encoding": {
    "x": {
      "field": "d",
      "type": "temporal",
      "scale": {"type": "utc", "domain": [{"year": 2013, "month": 1, "date": 1, "utc": true}, {"year": 2016, "month": 7, "date": 2, "utc": true}]},
      "axis": {
        "title": null,
        "tickCount": {"interval": "month", "step": 1},
        "labelExpr": "utcFormat(datum.value, '%m') == '01' ? utcFormat(datum.value, '%d/%m/%y') : ''",
        "labelAngle": 270,
        "labelPadding": 8,
        "labelFont": "Lato",
        "labelFontSize": 15,
        "labelColor": "#262626",
        "labelOverlap": false,
        "labelFlush": false,
        "labelBound": false,
        "grid": true,
        "gridColor": "#d4d4d4",
        "gridDash": [3, 3],
        "ticks": false,
        "domain": false
      }
    }
  },
  "layer": [
    {
      "data": {"name": "years"},
      "mark": {"type": "rule", "color": "#000000", "strokeWidth": 2},
      "encoding": {}
    },
    {
      "data": {"name": "price"},
      "mark": {"type": "line", "strokeWidth": 3, "interpolate": "linear"},
      "encoding": {
        "y": {
          "field": "p",
          "type": "quantitative",
          "scale": {"domain": [0, 10], "nice": false, "zero": true},
          "axis": {
            "orient": "left",
            "values": [0, 0.5, 1, 1.5, 2, 2.5, 3, 3.5, 4, 4.5, 5, 5.5, 6, 6.5, 7, 7.5, 8, 8.5, 9, 9.5, 10],
            "labelExpr": "datum.value % 1 === 0 ? format(datum.value, '.2f') : ''",
            "labelOverlap": false,
            "grid": true,
            "gridColor": "#b0b0b0",
            "gridDash": [3, 2],
            "ticks": false,
            "domain": false,
            "labelPadding": 16,
            "labelFont": "Lato",
            "labelFontSize": 15,
            "labelColor": "#262626",
            "title": "Euros/T Co2",
            "titleColor": "#00A040",
            "titleFont": "Lato",
            "titleFontSize": 14,
            "titleFontWeight": "bold",
            "titlePadding": 8
          }
        },
        "color": {
          "datum": "Auction Clearing Price",
          "scale": {"domain": ["Auction Clearing Price", "Cover Ratio"], "range": ["#00B050", "#C0504D"]},
          "legend": {
            "orient": "none",
            "legendX": 381,
            "legendY": 10,
            "title": null,
            "direction": "vertical",
            "padding": 13,
            "rowPadding": 26,
            "symbolOffset": 25,
            "labelOffset": 10,
            "symbolSize": 900,
            "strokeColor": "#95B3D7",
            "fillColor": "#ffffff",
            "labelFont": "Lato",
            "labelFontSize": 16,
            "labelColor": "#262626",
            "encode": {
              "symbols": {
                "update": {
                  "shape": {"signal": "datum.value === 'Cover Ratio' ? 'circle' : 'stroke'"},
                  "size": {"signal": "datum.value === 'Cover Ratio' ? 30 : 900"},
                  "strokeWidth": {"signal": "datum.value === 'Cover Ratio' ? 0 : 3.5"},
                  "fill": {"signal": "datum.value === 'Cover Ratio' ? '#C0504D' : 'transparent'"},
                  "stroke": {"signal": "datum.value === 'Cover Ratio' ? '#C0504D' : '#00B050'"},
                  "opacity": {"value": 1}
                }
              }
            }
          }
        }
      }
    },
    {
      "data": {"name": "cover"},
      "mark": {"type": "circle", "size": 24, "opacity": 1},
      "encoding": {
        "y": {
          "field": "c",
          "type": "quantitative",
          "scale": {"domain": [0, 20], "nice": false},
          "axis": {
            "orient": "right",
            "values": [0, 2, 4, 6, 8, 10, 12, 14, 16, 18, 20],
            "grid": false,
            "ticks": false,
            "domain": false,
            "labelPadding": 17,
            "labelFont": "Lato",
            "labelFontSize": 15,
            "labelColor": "#262626",
            "title": "Cover Ratio",
            "titleColor": "#C55A11",
            "titleFont": "Lato",
            "titleFontSize": 14,
            "titleFontWeight": "bold",
            "titleAngle": 270,
            "titleBaseline": "top",
            "titlePadding": 12
          }
        },
        "color": {"datum": "Cover Ratio"}
      }
    }
  ],
  "resolve": {"scale": {"y": "independent"}}
}
